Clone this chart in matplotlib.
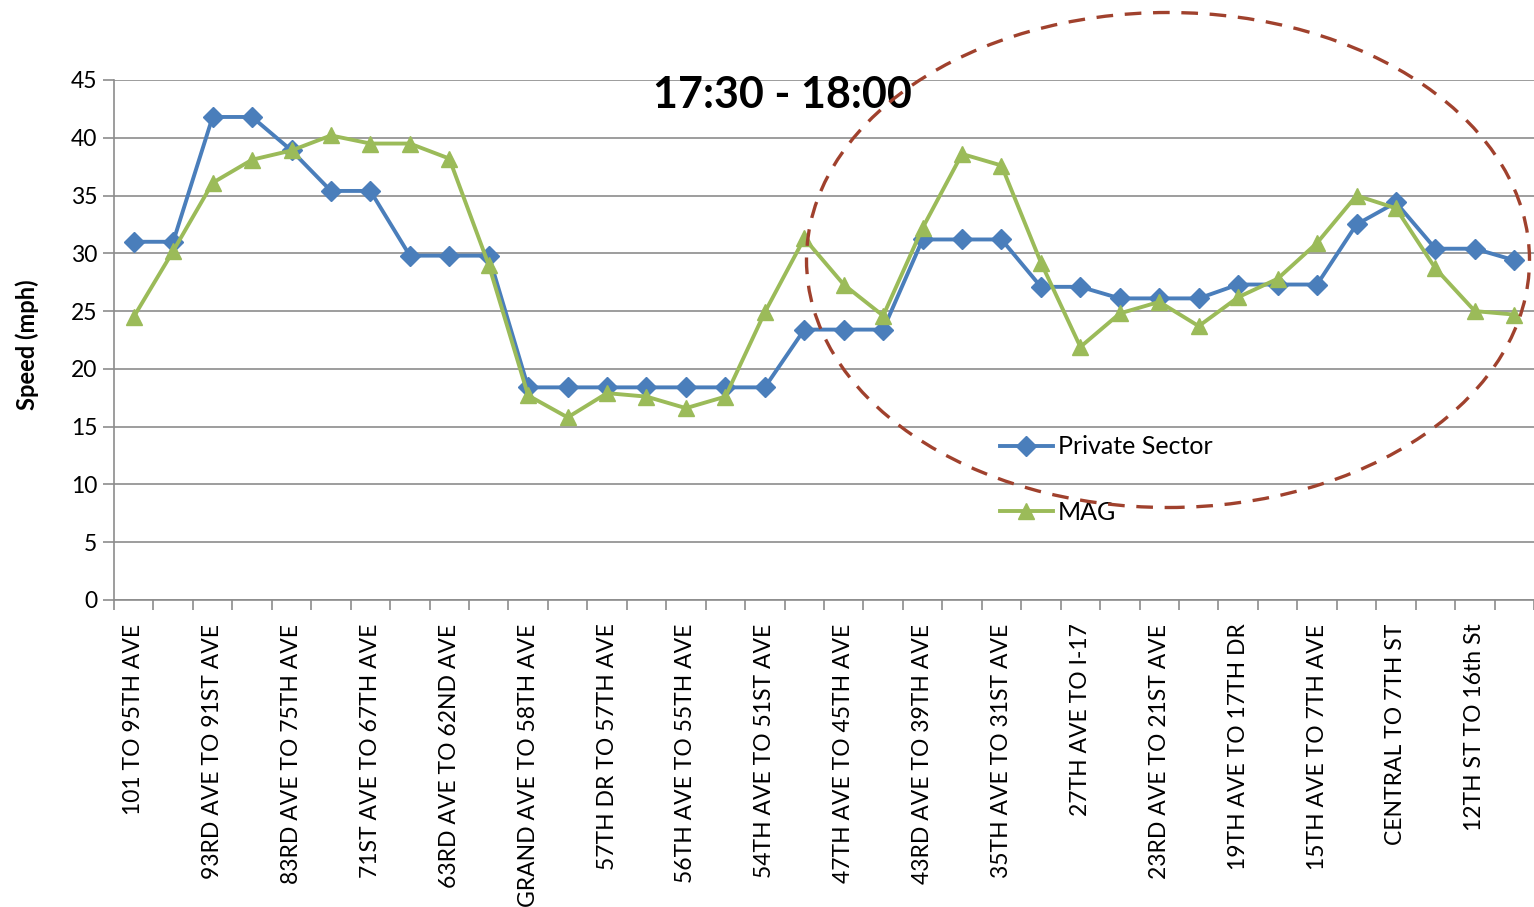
import matplotlib
matplotlib.use("Agg")
import matplotlib.pyplot as plt
from matplotlib.patches import Ellipse
from matplotlib.ticker import MultipleLocator, FixedLocator

plt.rcParams['font.family'] = ['Lato', 'DejaVu Sans']

# segment names (only every other segment gets a label on the axis)
segment_labels = [
    "101 TO 95TH AVE", "93RD AVE TO 91ST AVE", "83RD AVE TO 75TH AVE",
    "71ST AVE TO 67TH AVE", "63RD AVE TO 62ND AVE", "GRAND AVE TO 58TH AVE",
    "57TH DR TO 57TH AVE", "56TH AVE TO 55TH AVE", "54TH AVE TO 51ST AVE",
    "47TH AVE TO 45TH AVE", "43RD AVE TO 39TH AVE", "35TH AVE TO 31ST AVE",
    "27TH AVE TO I-17", "23RD AVE TO 21ST AVE", "19TH AVE TO 17TH DR",
    "15TH AVE TO 7TH AVE", "CENTRAL TO 7TH ST", "12TH ST TO 16th St",
]

# speeds in mph, one value per segment (36 segments)
private_sector = [
    31.0, 31.0, 41.8, 41.8, 38.9, 35.4, 35.4, 29.8, 29.8, 29.8,
    18.4, 18.4, 18.4, 18.4, 18.4, 18.4, 18.4, 23.4, 23.4, 23.4,
    31.2, 31.2, 31.2, 27.1, 27.1, 26.1, 26.1, 26.1, 27.3, 27.3,
    27.3, 32.5, 34.4, 30.4, 30.4, 29.4,
]
mag = [
    24.5, 30.2, 36.1, 38.1, 38.9, 40.2, 39.5, 39.5, 38.2, 29.0,
    17.7, 15.8, 17.9, 17.6, 16.6, 17.6, 24.9, 31.3, 27.3, 24.6,
    32.2, 38.6, 37.6, 29.2, 21.9, 24.8, 25.8, 23.7, 26.2, 27.8,
    30.9, 35.0, 33.9, 28.7, 25.0, 24.7,
]

x = list(range(len(private_sector)))

fig = plt.figure(figsize=(15.34, 9.07), dpi=100)
ax = fig.add_axes([114 / 1534, 1 - 600 / 907, 1420 / 1534, 520 / 907])

ax.plot(x, private_sector, color='#4A7EBB', lw=2.8, marker='D', ms=10.5,
        label='Private Sector', zorder=3)
ax.plot(x, mag, color='#9BBB59', lw=2.8, marker='^', ms=12,
        label='MAG', zorder=3)

ax.set_xlim(-0.5, len(x) - 0.5)
ax.set_ylim(0, 45)
ax.yaxis.set_major_locator(MultipleLocator(5))
ax.grid(axis='y', color='#8C8C8C', lw=1.2)
ax.set_axisbelow(True)

# labels on even segments, tick marks on segment boundaries
ax.xaxis.set_major_locator(FixedLocator(x[::2]))
ax.set_xticklabels(segment_labels, rotation=90, fontsize=16.5)
ax.tick_params(axis='x', which='major', length=0, pad=17)
ax.xaxis.set_minor_locator(FixedLocator([i - 0.5 for i in range(len(x) + 1)]))
ax.tick_params(axis='x', which='minor', length=7, color='#8C8C8C', width=1.2)
ax.tick_params(axis='y', length=8, color='#8C8C8C', width=1.2, labelsize=16.5, pad=4)

for side in ['top', 'right']:
    ax.spines[side].set_visible(False)
for side in ['left', 'bottom']:
    ax.spines[side].set_color('#8C8C8C')
    ax.spines[side].set_linewidth(1.2)

ax.set_ylabel('Speed (mph)', fontsize=17, fontweight='bold')
ax.yaxis.set_label_coords(39 / 1534, 1 - 345 / 907, transform=fig.transFigure)
fig.text(782 / 1534, 1 - 95 / 907, '17:30 - 18:00', fontsize=31,
         fontweight='bold', ha='center', va='center')

ax.legend(loc='upper left', bbox_to_anchor=(977 / 1534, 1 - 413 / 907),
          bbox_transform=fig.transFigure, frameon=False, fontsize=18,
          handlelength=2.15, handletextpad=0.2, labelspacing=1.7)

# dashed ring around the eastern segments
ring = Ellipse((1168 / 1534, 1 - 260 / 907), 723 / 1534, 495 / 907,
               transform=fig.transFigure, fill=False, edgecolor='#A0412D',
               lw=2.4, ls=(0, (5, 3.5)), zorder=10)
fig.patches.append(ring)

fig.savefig('out.png', dpi=100, facecolor='white')
